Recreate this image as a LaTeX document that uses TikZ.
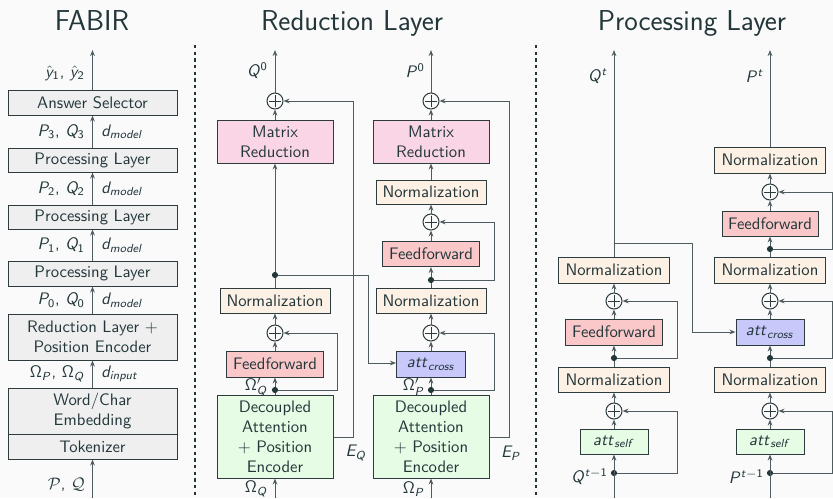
\documentclass[tikz,border=0pt]{standalone}
\usetikzlibrary{arrows.meta}
% sans-serif italic letters for the math labels
\DeclareMathAlphabet{\mathsfit}{OT1}{cmss}{m}{sl}
\newcommand\sv[1]{\mathsfit{#1}}
\newcommand\sn[1]{\mathsf{#1}}
\definecolor{ink}{RGB}{35,55,59}
\definecolor{edge}{RGB}{45,58,62}
\definecolor{wirec}{RGB}{78,92,96}
\definecolor{bg}{RGB}{250,250,250}
\definecolor{boxgray}{RGB}{239,239,239}
\definecolor{normc}{RGB}{253,240,228}
\definecolor{mrc}{RGB}{249,213,229}
\definecolor{ffc}{RGB}{250,200,200}
\definecolor{crossc}{RGB}{200,200,250}
\definecolor{greenc}{RGB}{230,252,228}
\begin{document}
\begin{tikzpicture}[x=0.6pt,y=-0.6pt,font=\sffamily,text=ink,
  blk/.style={draw=edge,line width=0.6pt,inner sep=0pt,align=center},
  sz/.style 2 args={minimum width=#1*0.6pt,minimum height=#2*0.6pt},
  fbox/.style={blk,fill=boxgray},
  normbox/.style={blk,fill=normc},
  mrbox/.style={blk,fill=mrc},
  ffbox/.style={blk,fill=ffc},
  crossbox/.style={blk,fill=crossc},
  greenbox/.style={blk,fill=greenc},
  plus/.style={circle,draw=edge,line width=0.6pt,fill=bg,minimum size=9.6pt,inner sep=0pt,
    path picture={\draw[edge,line width=0.6pt]
      ([xshift=-3.5pt]path picture bounding box.center) -- ([xshift=3.5pt]path picture bounding box.center)
      ([yshift=-3.5pt]path picture bounding box.center) -- ([yshift=3.5pt]path picture bounding box.center);}},
  dot/.style={circle,fill=ink,inner sep=0pt,minimum size=3.7pt},
  lab/.style={inner sep=0pt},
  title/.style={anchor=base,font=\sffamily\LARGE},
  wire/.style={draw=wirec,line width=0.6pt},
  arr/.style={wire,-{Stealth[length=3.6pt,width=2.8pt]}},
  sep/.style={draw=ink,line width=1.2pt,dash pattern=on 2pt off 2pt}]

\fill[bg] (0,0) rectangle (833,498);
\useasboundingbox (0,0) rectangle (833,498);

% titles and column separators
\node[title] (t1) at (92,30) {FABIR};
\node[title] (t2) at (352,30) {Reduction Layer};
\node[title] (t3) at (692,30) {Processing Layer};
\draw[sep] (195,45) -- (195,498);
\draw[sep] (536,45) -- (536,498);

% ---------------- FABIR ----------------
\node[fbox,sz={169}{25}] (ans) at (92.5,102.5) {Answer Selector};
\node[fbox,sz={169}{24}] (pl3) at (92.5,160) {Processing Layer};
\node[fbox,sz={169}{24}] (pl2) at (92.5,217) {Processing Layer};
\node[fbox,sz={169}{25}] (pl1) at (92.5,273.5) {Processing Layer};
\node[fbox,sz={169}{46}] (rle) at (92.5,337) {Reduction Layer +\\Position Encoder};
\node[fbox,sz={169}{46}] (emb) at (92.5,411) {Word/Char\\Embedding};
\node[fbox,sz={169}{25}] (tok) at (92.5,446.5) {Tokenizer};
\coordinate (fout) at (92.5,50);
\coordinate (fin) at (92.5,498);
\draw[arr] (fin) -- (tok.south);
\draw[arr] (emb.north) -- (rle.south);
\draw[arr] (rle.north) -- (pl1.south);
\draw[arr] (pl1.north) -- (pl2.south);
\draw[arr] (pl2.north) -- (pl3.south);
\draw[arr] (pl3.north) -- (ans.south);
\draw[arr] (ans.north) -- (fout);

\node[lab,anchor=east] (ly) at (85,73) {$\hat{\sv y}_{\sn 1}$, $\hat{\sv y}_{\sn 2}$};
\node[lab,anchor=east] (l3) at (85,131.5) {$\sv P_{\sn 3}$, $\sv Q_{\sn 3}$};
\node[lab,anchor=west] (d3) at (101,131.5) {$\sv d_{\sv{model}}$};
\node[lab,anchor=east] (l2) at (85,188.5) {$\sv P_{\sn 2}$, $\sv Q_{\sn 2}$};
\node[lab,anchor=west] (d2) at (101,188.5) {$\sv d_{\sv{model}}$};
\node[lab,anchor=east] (l1) at (85,245) {$\sv P_{\sn 1}$, $\sv Q_{\sn 1}$};
\node[lab,anchor=west] (d1) at (101,245) {$\sv d_{\sv{model}}$};
\node[lab,anchor=east] (l0) at (85,300) {$\sv P_{\sn 0}$, $\sv Q_{\sn 0}$};
\node[lab,anchor=west] (d0) at (101,300) {$\sv d_{\sv{model}}$};
\node[lab,anchor=east] (lo) at (85,374) {$\sn\Omega_{\sv P}$, $\sn\Omega_{\sv Q}$};
\node[lab,anchor=west] (di) at (101,374) {$\sv d_{\sv{input}}$};
\node[lab,anchor=east] (lpq) at (85,485) {$\mathcal{P}$, $\mathcal{Q}$};

% ---------------- Reduction Layer: question branch ----------------
\node[plus] (qp0) at (275,101) {};
\node[mrbox,sz={116}{43}] (qmr) at (275,141.5) {Matrix\\Reduction};
\node[dot] (qd1) at (275,275) {};
\node[normbox,sz={110}{25}] (qn) at (275,300.5) {Normalization};
\node[plus] (qp1) at (275,333) {};
\node[ffbox,sz={97}{26}] (qff) at (275,364) {Feedforward};
\node[dot] (qd2) at (275,390) {};
\node[greenbox,sz={116}{83}] (qda) at (275,436.5) {Decoupled\\Attention\\+ Position\\Encoder};
\coordinate (qout) at (275,50);
\coordinate (qin) at (275,498);
\coordinate (qe1) at (353,437);
\coordinate (qe2) at (353,101);
\coordinate (qs1) at (337,390);
\coordinate (qs2) at (337,333);
\coordinate (qc1) at (368,275);
\coordinate (qc2) at (368,363);

\draw[arr] (qin) -- (qda.south);
\draw[wire] (qda.north) -- (qd2);
\draw[arr] (qd2) -- (qff.south);
\draw[arr] (qff.north) -- (qp1.south);
\draw[arr] (qp1.north) -- (qn.south);
\draw[wire] (qn.north) -- (qd1);
\draw[arr] (qd1) -- (qmr.south);
\draw[arr] (qmr.north) -- (qp0.south);
\draw[arr] (qp0.north) -- (qout);
\draw[arr] (qd2) -- (qs1) -- (qs2) -- (qp1.east);
\draw[arr] (qda.east |- qe1) -- (qe1) -- (qe2) -- (qp0.east);

\node[lab,anchor=east] (lq0) at (268,71) {$\sv Q^{\sn 0}$};
\node[lab,anchor=east] (lqo1) at (268,387) {$\sn\Omega'_{\sv Q}$};
\node[lab,anchor=east] (lqo) at (268,489) {$\sn\Omega_{\sv Q}$};
\node[lab] (leq) at (356,453) {$\sv E_{\sv Q}$};

% ---------------- Reduction Layer: passage branch ----------------
\node[plus] (pp0) at (431,101) {};
\node[mrbox,sz={116}{43}] (pmr) at (431,141.5) {Matrix\\Reduction};
\node[normbox,sz={110}{24}] (pn1) at (431,192) {Normalization};
\node[plus] (pp1) at (431,222) {};
\node[ffbox,sz={97}{25}] (pff) at (431,254) {Feedforward};
\node[dot] (pd1) at (431,280) {};
\node[normbox,sz={110}{25}] (pn2) at (431,300.5) {Normalization};
\node[plus] (pp2) at (431,333) {};
\node[crossbox,sz={69}{26}] (pcr) at (431,364) {$\sv{att}_{\sv{cross}}$};
\node[dot] (pd2) at (431,390) {};
\node[greenbox,sz={116}{83}] (pda) at (431,436.5) {Decoupled\\Attention\\+ Position\\Encoder};
\coordinate (pout) at (431,50);
\coordinate (pin) at (431,498);
\coordinate (pe1) at (509,437);
\coordinate (pe2) at (509,101);
\coordinate (ps1) at (494,390);
\coordinate (ps2) at (494,333);
\coordinate (ps3) at (494,280);
\coordinate (ps4) at (494,222);

\draw[arr] (pin) -- (pda.south);
\draw[wire] (pda.north) -- (pd2);
\draw[arr] (pd2) -- (pcr.south);
\draw[arr] (pcr.north) -- (pp2.south);
\draw[arr] (pp2.north) -- (pn2.south);
\draw[wire] (pn2.north) -- (pd1);
\draw[arr] (pd1) -- (pff.south);
\draw[arr] (pff.north) -- (pp1.south);
\draw[arr] (pp1.north) -- (pn1.south);
\draw[arr] (pn1.north) -- (pmr.south);
\draw[arr] (pmr.north) -- (pp0.south);
\draw[arr] (pp0.north) -- (pout);
\draw[arr] (pd2) -- (ps1) -- (ps2) -- (pp2.east);
\draw[arr] (pd1) -- (ps3) -- (ps4) -- (pp1.east);
\draw[arr] (pda.east |- pe1) -- (pe1) -- (pe2) -- (pp0.east);
\draw[arr] (qd1) -- (qc1) -- (qc2) -- (pcr.west |- qc2);

\node[lab,anchor=east] (lp0) at (425,71) {$\sv P^{\sn 0}$};
\node[lab,anchor=east] (lpo1) at (425,387) {$\sn\Omega'_{\sv P}$};
\node[lab,anchor=east] (lpo) at (425,489) {$\sn\Omega_{\sv P}$};
\node[lab] (lep) at (511,453) {$\sv E_{\sv P}$};

% ---------------- Processing Layer: question branch ----------------
\node[normbox,sz={111}{26}] (qna) at (614,270) {Normalization};
\node[plus] (qpa) at (614,301) {};
\node[ffbox,sz={97}{26}] (qffa) at (614,332) {Feedforward};
\node[dot] (qda1) at (614,358) {};
\node[normbox,sz={111}{25}] (qnb) at (614,379.5) {Normalization};
\node[plus] (qpb) at (614,411) {};
\node[greenbox,sz={68}{25}] (qsa) at (614,441.5) {$\sv{att}_{\sv{self}}$};
\node[dot] (qdb) at (614,473) {};
\coordinate (qtout) at (614,50);
\coordinate (qtin) at (614,498);
\coordinate (qbr) at (614,243);
\coordinate (qbr1) at (692,243);
\coordinate (qbr2) at (692,332);
\coordinate (qk1) at (677,358);
\coordinate (qk2) at (677,301);
\coordinate (qk3) at (677,473);
\coordinate (qk4) at (677,411);

\draw[arr] (qtin) -- (qsa.south);
\draw[arr] (qsa.north) -- (qpb.south);
\draw[arr] (qpb.north) -- (qnb.south);
\draw[wire] (qnb.north) -- (qda1);
\draw[arr] (qda1) -- (qffa.south);
\draw[arr] (qffa.north) -- (qpa.south);
\draw[arr] (qpa.north) -- (qna.south);
\draw[arr] (qna.north) -- (qtout);
\draw[arr] (qdb) -- (qk3) -- (qk4) -- (qpb.east);
\draw[arr] (qda1) -- (qk1) -- (qk2) -- (qpa.east);

\node[lab,anchor=east] (lqt) at (608,76) {$\sv Q^{\sv t}$};
\node[lab,anchor=east] (lqt1) at (608,477) {$\sv Q^{\sv t-\sn 1}$};

% ---------------- Processing Layer: passage branch ----------------
\node[normbox,sz={111}{26}] (pnc) at (770,160) {Normalization};
\node[plus] (ppc) at (770,192) {};
\node[ffbox,sz={96}{25}] (pffc) at (770,223.5) {Feedforward};
\node[dot] (pdc) at (770,249) {};
\node[normbox,sz={111}{26}] (pnb) at (770,270) {Normalization};
\node[plus] (ppb) at (770,301) {};
\node[crossbox,sz={68}{26}] (pcb) at (770,332) {$\sv{att}_{\sv{cross}}$};
\node[dot] (pdb) at (770,358) {};
\node[normbox,sz={111}{25}] (pna) at (770,379.5) {Normalization};
\node[plus] (ppa) at (770,411) {};
\node[greenbox,sz={68}{25}] (psa) at (770,441.5) {$\sv{att}_{\sv{self}}$};
\node[dot] (pda1) at (770,473) {};
\coordinate (ptout) at (770,50);
\coordinate (ptin) at (770,498);
\coordinate (pk1) at (832,473);
\coordinate (pk2) at (832,411);
\coordinate (pk3) at (832,358);
\coordinate (pk4) at (832,301);
\coordinate (pk5) at (832,249);
\coordinate (pk6) at (832,192);

\draw[arr] (ptin) -- (psa.south);
\draw[arr] (psa.north) -- (ppa.south);
\draw[arr] (ppa.north) -- (pna.south);
\draw[wire] (pna.north) -- (pdb);
\draw[arr] (pdb) -- (pcb.south);
\draw[arr] (pcb.north) -- (ppb.south);
\draw[arr] (ppb.north) -- (pnb.south);
\draw[wire] (pnb.north) -- (pdc);
\draw[arr] (pdc) -- (pffc.south);
\draw[arr] (pffc.north) -- (ppc.south);
\draw[arr] (ppc.north) -- (pnc.south);
\draw[arr] (pnc.north) -- (ptout);
\draw[arr] (pda1) -- (pk1) -- (pk2) -- (ppa.east);
\draw[arr] (pdb) -- (pk3) -- (pk4) -- (ppb.east);
\draw[arr] (pdc) -- (pk5) -- (pk6) -- (ppc.east);
\draw[arr] (qbr) -- (qbr1) -- (qbr2) -- (pcb.west);

\node[lab,anchor=east] (lpt) at (764,76) {$\sv P^{\sv t}$};
\node[lab,anchor=east] (lpt1) at (764,477) {$\sv P^{\sv t-\sn 1}$};
\end{tikzpicture}
\end{document}
